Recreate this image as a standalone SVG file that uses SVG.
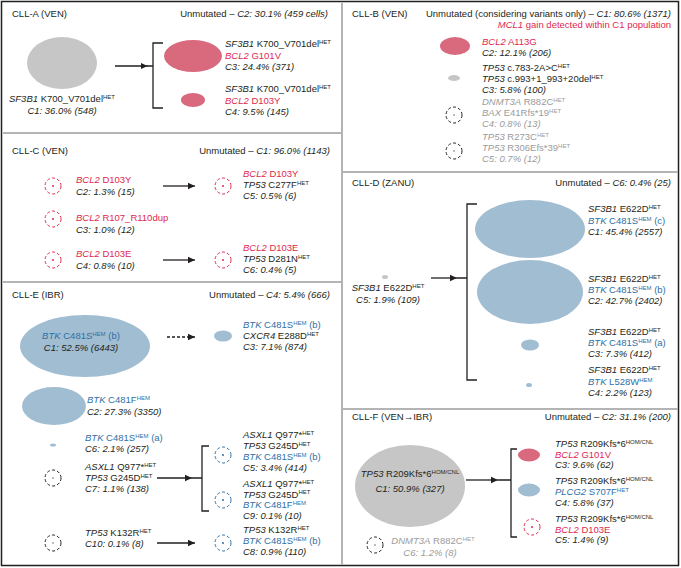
<svg xmlns="http://www.w3.org/2000/svg" width="681" height="568" viewBox="0 0 681 568">
<defs>
<style>
text{font-family:"Liberation Sans",Arial,sans-serif;font-size:9.5px;fill:#231f20}
.i{font-style:italic}
.r{fill:#e0284f}
.b{fill:#2f6fa6}
.g{fill:#9b9b9b}
.s{font-size:6px}
.m{text-anchor:middle}
.e{text-anchor:end}
.gr{fill:#c6c6c6}
.pk{fill:#d9697d}
.bl{fill:#a0bdd2}
.dk{fill:none;stroke:#231f20;stroke-width:1;stroke-dasharray:3 2.2}
.dr{fill:none;stroke:#e0284f;stroke-width:1;stroke-dasharray:3 2.2}
.db{fill:none;stroke:#2f6fa6;stroke-width:1;stroke-dasharray:3 2.2}
.dot{fill:#231f20}
.dotr{fill:#e0284f}
.dotb{fill:#2f6fa6}
.dotg{fill:#9b9b9b}
.ln{fill:none;stroke:#231f20;stroke-width:1.3}
.div{stroke:#b4b4b4;stroke-width:2;fill:none}
</style>
<marker id="ah" markerWidth="8" markerHeight="8" refX="7" refY="4" orient="auto" markerUnits="userSpaceOnUse"><path d="M0,0.8 L7,4 L0,7.2 Z" fill="#231f20"/></marker>
</defs>
<rect x="0" y="0" width="681" height="568" fill="#ffffff"/>
<g id="frame">
<rect x="1.5" y="1.5" width="677" height="564" fill="none" stroke="#231f20" stroke-width="1.5"/>
<path class="div" d="M342,3 V565 M3,133 H342 M3,282 H342 M342,172 H678 M342,409 H678"/>
</g>

<!-- CLL-A -->
<g id="cllA-header">
<text x="12" y="17">CLL-A (VEN)</text>
<text class="e" x="328" y="17">Unmutated – <tspan class="i">C2: 30.1% (459 cells)</tspan></text>
</g>
<g id="A-C1">
<ellipse class="gr" cx="62" cy="63" rx="35" ry="26"/>
<text class="m" x="62" y="102"><tspan class="i">SF3B1</tspan> K700_V701del<tspan class="s" dy="-3.5">HET</tspan></text>
<text class="m i" x="62" y="114">C1: 36.0% (548)</text>
</g>
<g id="A-C3">
<ellipse class="pk" cx="193" cy="56" rx="29" ry="16"/>
<text x="225" y="47"><tspan class="i">SF3B1</tspan> K700_V701del<tspan class="s" dy="-3.5">HET</tspan></text>
<text class="r" x="225" y="58.5"><tspan class="i">BCL2</tspan> G101V</text>
<text class="i" x="225" y="70">C3: 24.4% (371)</text>
</g>
<g id="A-C4">
<ellipse class="pk" cx="193" cy="100" rx="12" ry="7"/>
<text x="225" y="92"><tspan class="i">SF3B1</tspan> K700_V701del<tspan class="s" dy="-3.5">HET</tspan></text>
<text class="r" x="225" y="103.5"><tspan class="i">BCL2</tspan> D103Y</text>
<text class="i" x="225" y="115">C4: 9.5% (145)</text>
</g>

<!-- CLL-B -->
<g id="cllB-header">
<text x="352" y="17">CLL-B (VEN)</text>
<text class="e" x="671" y="17">Unmutated (considering variants only) – <tspan class="i">C1: 80.6% (1371)</tspan></text>
<text class="e r" x="671" y="28"><tspan class="i">MCL1</tspan> gain detected within C1 population</text>
</g>
<g id="B-C2">
<ellipse class="pk" cx="455" cy="46" rx="15" ry="9"/>
<text class="r" x="482" y="45"><tspan class="i">BCL2</tspan> A113G</text>
<text class="i" x="482" y="56">C2: 12.1% (206)</text>
</g>
<g id="B-C3">
<ellipse class="gr" cx="454" cy="78" rx="6" ry="3"/>
<text x="482" y="71"><tspan class="i">TP53</tspan> c.783-2A&gt;C<tspan class="s" dy="-3.5">HET</tspan></text>
<text x="482" y="82"><tspan class="i">TP53</tspan> c.993+1_993+20del<tspan class="s" dy="-3.5">HET</tspan></text>
<text class="i" x="482" y="93">C3: 5.8% (100)</text>
</g>
<g id="B-C4">
<circle class="dk" cx="454" cy="115" r="8"/>
<circle class="dotg" cx="454" cy="115" r="0.9"/>
<text class="g" x="482" y="105"><tspan class="i">DNMT3A</tspan> R882C<tspan class="s" dy="-3.5">HET</tspan></text>
<text class="g" x="482" y="116"><tspan class="i">BAX</tspan> E41Rfs*19<tspan class="s" dy="-3.5">HET</tspan></text>
<text class="g i" x="482" y="127">C4: 0.8% (13)</text>
</g>
<g id="B-C5">
<circle class="dk" cx="454" cy="151" r="8"/>
<circle class="dotg" cx="454" cy="151" r="0.9"/>
<text class="g" x="482" y="140"><tspan class="i">TP53</tspan> R273C<tspan class="s" dy="-3.5">HET</tspan></text>
<text class="g" x="482" y="151"><tspan class="i">TP53</tspan> R306Efs*39<tspan class="s" dy="-3.5">HET</tspan></text>
<text class="g i" x="482" y="162">C5: 0.7% (12)</text>
</g>

<!-- CLL-C -->
<g id="cllC-header">
<text x="12" y="154">CLL-C (VEN)</text>
<text class="e" x="330" y="154">Unmutated – <tspan class="i">C1: 96.0% (1143)</tspan></text>
</g>
<g id="C-C2">
<circle class="dr" cx="53" cy="186" r="8"/>
<circle class="dotr" cx="53" cy="186" r="1"/>
<text class="r" x="76" y="183"><tspan class="i">BCL2</tspan> D103Y</text>
<text class="i" x="76" y="195">C2: 1.3% (15)</text>
</g>
<g id="C-C3">
<circle class="dr" cx="53" cy="219" r="8"/>
<circle class="dotr" cx="53" cy="219" r="1"/>
<text class="r" x="76" y="221"><tspan class="i">BCL2</tspan> R107_R110dup</text>
<text class="i" x="76" y="233">C3: 1.0% (12)</text>
</g>
<g id="C-C4">
<circle class="dr" cx="53" cy="260" r="8"/>
<circle class="dotr" cx="53" cy="260" r="1"/>
<text class="r" x="76" y="257"><tspan class="i">BCL2</tspan> D103E</text>
<text class="i" x="76" y="269">C4: 0.8% (10)</text>
</g>
<g id="C-C5">
<circle class="dr" cx="223" cy="186" r="8"/>
<circle class="dotr" cx="223" cy="186" r="1"/>
<text class="r" x="243" y="177"><tspan class="i">BCL2</tspan> D103Y</text>
<text x="243" y="188"><tspan class="i">TP53</tspan> C277F<tspan class="s" dy="-3.5">HET</tspan></text>
<text class="i" x="243" y="199">C5: 0.5% (6)</text>
</g>
<g id="C-C6">
<circle class="dr" cx="223" cy="260" r="8"/>
<circle class="dotr" cx="223" cy="260" r="1"/>
<text class="r" x="243" y="251"><tspan class="i">BCL2</tspan> D103E</text>
<text x="243" y="262"><tspan class="i">TP53</tspan> D281N<tspan class="s" dy="-3.5">HET</tspan></text>
<text class="i" x="243" y="273">C6: 0.4% (5)</text>
</g>

<!-- CLL-D -->
<g id="cllD-header">
<text x="352" y="186">CLL-D (ZANU)</text>
<text class="e" x="671" y="186">Unmutated – <tspan class="i">C6: 0.4% (25)</tspan></text>
</g>
<g id="D-C5">
<ellipse class="gr" cx="385" cy="277" rx="3" ry="2"/>
<text class="m" x="388" y="291"><tspan class="i">SF3B1</tspan> E622D<tspan class="s" dy="-3.5">HET</tspan></text>
<text class="m i" x="388" y="303">C5: 1.9% (109)</text>
</g>
<g id="D-C1">
<ellipse class="bl" cx="530" cy="229" rx="55" ry="29"/>
<text x="588" y="212"><tspan class="i">SF3B1</tspan> E622D<tspan class="s" dy="-3.5">HET</tspan></text>
<text class="b" x="588" y="224"><tspan class="i">BTK</tspan> C481S<tspan class="s" dy="-3.5">HEM</tspan><tspan dy="3.5"> (c)</tspan></text>
<text class="i" x="588" y="235">C1: 45.4% (2557)</text>
</g>
<g id="D-C2">
<ellipse class="bl" cx="530" cy="292" rx="53" ry="32"/>
<text x="588" y="282"><tspan class="i">SF3B1</tspan> E622D<tspan class="s" dy="-3.5">HET</tspan></text>
<text class="b" x="588" y="293"><tspan class="i">BTK</tspan> C481S<tspan class="s" dy="-3.5">HEM</tspan><tspan dy="3.5"> (b)</tspan></text>
<text class="i" x="588" y="304">C2: 42.7% (2402)</text>
</g>
<g id="D-C3">
<ellipse class="bl" cx="530" cy="345" rx="9" ry="5.5"/>
<text x="588" y="335"><tspan class="i">SF3B1</tspan> E622D<tspan class="s" dy="-3.5">HET</tspan></text>
<text class="b" x="588" y="346"><tspan class="i">BTK</tspan> C481S<tspan class="s" dy="-3.5">HEM</tspan><tspan dy="3.5"> (a)</tspan></text>
<text class="i" x="588" y="357">C3: 7.3% (412)</text>
</g>
<g id="D-C4">
<ellipse class="bl" cx="529" cy="385" rx="3" ry="2"/>
<text x="588" y="373"><tspan class="i">SF3B1</tspan> E622D<tspan class="s" dy="-3.5">HET</tspan></text>
<text class="b" x="588" y="385"><tspan class="i">BTK</tspan> L528W<tspan class="s" dy="-3.5">HEM</tspan></text>
<text class="i" x="588" y="396">C4: 2.2% (123)</text>
</g>

<!-- CLL-E -->
<g id="cllE-header">
<text x="12" y="298">CLL-E (IBR)</text>
<text class="e" x="330" y="298">Unmutated – <tspan class="i">C4: 5.4% (666)</tspan></text>
</g>
<g id="E-C1">
<ellipse class="bl" cx="85" cy="346" rx="65" ry="31"/>
<text class="m b" x="81" y="339"><tspan class="i">BTK</tspan> C481S<tspan class="s" dy="-3.5">HEM</tspan><tspan dy="3.5"> (b)</tspan></text>
<text class="m i" x="81" y="351">C1: 52.5% (6443)</text>
</g>
<g id="E-C3">
<ellipse class="bl" cx="223" cy="336" rx="9" ry="5.5"/>
<text class="b" x="243" y="328"><tspan class="i">BTK</tspan> C481S<tspan class="s" dy="-3.5">HEM</tspan><tspan dy="3.5"> (b)</tspan></text>
<text x="243" y="339"><tspan class="i">CXCR4</tspan> E288D<tspan class="s" dy="-3.5">HET</tspan></text>
<text class="i" x="243" y="350">C3: 7.1% (874)</text>
</g>
<g id="E-C2">
<ellipse class="bl" cx="54" cy="406" rx="32" ry="19"/>
<text class="b" x="87" y="403"><tspan class="i">BTK</tspan> C481F<tspan class="s" dy="-3.5">HEM</tspan></text>
<text class="i" x="87" y="415">C2: 27.3% (3350)</text>
</g>
<g id="E-C6">
<ellipse class="bl" cx="53" cy="445" rx="3" ry="1.6"/>
<text class="b" x="85" y="441"><tspan class="i">BTK</tspan> C481S<tspan class="s" dy="-3.5">HEM</tspan><tspan dy="3.5"> (a)</tspan></text>
<text class="i" x="85" y="452">C6: 2.1% (257)</text>
</g>
<g id="E-C7">
<circle class="dk" cx="53" cy="478" r="8"/>
<circle class="dotg" cx="53" cy="478" r="0.9"/>
<text x="85" y="470"><tspan class="i">ASXL1</tspan> Q977*<tspan class="s" dy="-3.5">HET</tspan></text>
<text x="85" y="481"><tspan class="i">TP53</tspan> G245D<tspan class="s" dy="-3.5">HET</tspan></text>
<text class="i" x="85" y="492">C7: 1.1% (138)</text>
</g>
<g id="E-C5">
<circle class="db" cx="223" cy="455" r="8"/>
<circle class="dotb" cx="223" cy="455" r="1"/>
<text x="243" y="438"><tspan class="i">ASXL1</tspan> Q977*<tspan class="s" dy="-3.5">HET</tspan></text>
<text x="243" y="449"><tspan class="i">TP53</tspan> G245D<tspan class="s" dy="-3.5">HET</tspan></text>
<text class="b" x="243" y="460"><tspan class="i">BTK</tspan> C481S<tspan class="s" dy="-3.5">HEM</tspan><tspan dy="3.5"> (b)</tspan></text>
<text class="i" x="243" y="471">C5: 3.4% (414)</text>
</g>
<g id="E-C9">
<circle class="db" cx="223" cy="500" r="8"/>
<circle class="dotb" cx="223" cy="500" r="1"/>
<text x="243" y="487"><tspan class="i">ASXL1</tspan> Q977*<tspan class="s" dy="-3.5">HET</tspan></text>
<text x="243" y="497.5"><tspan class="i">TP53</tspan> G245D<tspan class="s" dy="-3.5">HET</tspan></text>
<text class="b" x="243" y="508"><tspan class="i">BTK</tspan> C481F<tspan class="s" dy="-3.5">HEM</tspan></text>
<text class="i" x="243" y="518.5">C9: 0.1% (10)</text>
</g>
<g id="E-C10">
<circle class="dk" cx="53" cy="543" r="8"/>
<circle class="dotg" cx="53" cy="543" r="0.9"/>
<text x="85" y="536"><tspan class="i">TP53</tspan> K132R<tspan class="s" dy="-3.5">HET</tspan></text>
<text class="i" x="85" y="547">C10: 0.1% (8)</text>
</g>
<g id="E-C8">
<circle class="db" cx="223" cy="543" r="8"/>
<circle class="dotb" cx="223" cy="543" r="1"/>
<text x="243" y="533"><tspan class="i">TP53</tspan> K132R<tspan class="s" dy="-3.5">HET</tspan></text>
<text class="b" x="243" y="544"><tspan class="i">BTK</tspan> C481S<tspan class="s" dy="-3.5">HEM</tspan><tspan dy="3.5"> (b)</tspan></text>
<text class="i" x="243" y="555">C8: 0.9% (110)</text>
</g>

<!-- CLL-F -->
<g id="cllF-header">
<text x="352" y="420">CLL-F (VEN→IBR)</text>
<text class="e" x="671" y="420">Unmutated – <tspan class="i">C2: 31.1% (200)</tspan></text>
</g>
<g id="F-C1">
<ellipse class="gr" cx="410" cy="486" rx="55" ry="41"/>
<text class="m" x="410" y="477"><tspan class="i">TP53</tspan> R209Kfs*6<tspan class="s" dy="-3.5">HOM/CNL</tspan></text>
<text class="m i" x="410" y="492">C1: 50.9% (327)</text>
</g>
<g id="F-C3">
<ellipse class="pk" cx="529" cy="455" rx="11" ry="6.5"/>
<text x="555" y="447"><tspan class="i">TP53</tspan> R209Kfs*6<tspan class="s" dy="-3.5">HOM/CNL</tspan></text>
<text class="r" x="555" y="457.5"><tspan class="i">BCL2</tspan> G101V</text>
<text class="i" x="555" y="468">C3: 9.6% (62)</text>
</g>
<g id="F-C4">
<ellipse class="bl" cx="529" cy="490" rx="11" ry="6.5"/>
<text x="555" y="484"><tspan class="i">TP53</tspan> R209Kfs*6<tspan class="s" dy="-3.5">HOM/CNL</tspan></text>
<text class="b" x="555" y="495"><tspan class="i">PLCG2</tspan> S707F<tspan class="s" dy="-3.5">HET</tspan></text>
<text class="i" x="555" y="505.5">C4: 5.8% (37)</text>
</g>
<g id="F-C5">
<circle class="dr" cx="532" cy="527" r="8"/>
<circle class="dotr" cx="532" cy="527" r="1"/>
<text x="555" y="522"><tspan class="i">TP53</tspan> R209Kfs*6<tspan class="s" dy="-3.5">HOM/CNL</tspan></text>
<text class="r" x="555" y="532.5"><tspan class="i">BCL2</tspan> D103E</text>
<text class="i" x="555" y="543">C5: 1.4% (9)</text>
</g>
<g id="F-C6">
<circle class="dk" cx="375" cy="545" r="8"/>
<circle class="dotg" cx="375" cy="545" r="0.9"/>
<text class="m g" x="433" y="544"><tspan class="i">DNMT3A</tspan> R882C<tspan class="s" dy="-3.5">HET</tspan></text>
<text class="m g i" x="430" y="556">C6: 1.2% (8)</text>
</g>

<!-- connectors -->
<g id="connectors">
<path class="ln" d="M115,66 H147.5" marker-end="url(#ah)"/>
<path class="ln" d="M147,66 H153 M163,43 H153 V108 H163"/>
<path class="ln" d="M163,186 H195" marker-end="url(#ah)"/>
<path class="ln" d="M163,260 H195" marker-end="url(#ah)"/>
<path class="ln" d="M431,278 H457" marker-end="url(#ah)"/>
<path class="ln" d="M457,278 H467 M477,204 H467 V380 H477"/>
<path class="ln" d="M167,337 H195" stroke-dasharray="3 2" marker-end="url(#ah)"/>
<path class="ln" d="M157,478 H192" marker-end="url(#ah)"/>
<path class="ln" d="M192,478 H202 M209,446 H202 V511 H209"/>
<path class="ln" d="M157,543 H195" marker-end="url(#ah)"/>
<path class="ln" d="M466,480 H498" marker-end="url(#ah)"/>
<path class="ln" d="M498,480 H511 M517,449 H511 V537 H517"/>
</g>
</svg>
